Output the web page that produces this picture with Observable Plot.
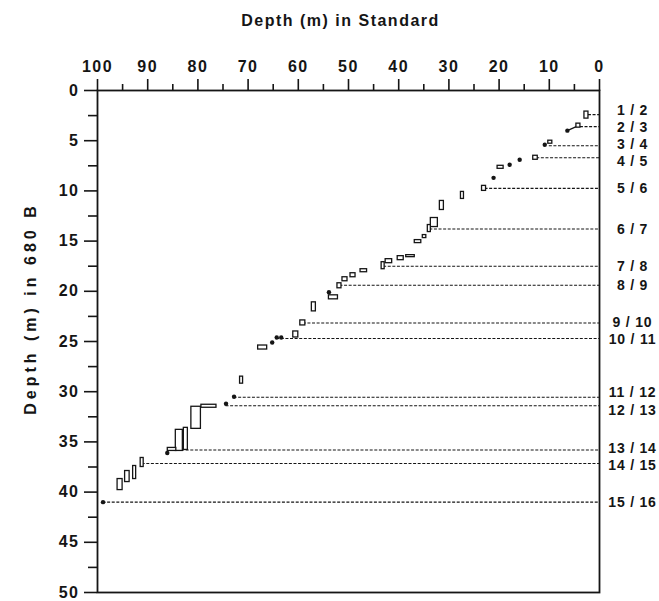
<!DOCTYPE html>
<html>
<head>
<meta charset="utf-8">
<script src="https://cdn.jsdelivr.net/npm/d3@7"></script>
<script src="https://cdn.jsdelivr.net/npm/@observablehq/plot@0.6"></script>
<style>
  html, body { margin: 0; padding: 0; background: #fff; }
  #chart { width: 659px; height: 601px; }
</style>
</head>
<body>
<div id="chart"></div>
<script>
// Depth correlation: Standard section (x) vs Hole 680 B (y), metres.

// Core intervals: [standard from, standard to, 680B from, 680B to]
const intervals = [
  [2.2, 3.0, 2.1, 2.8],
  [3.8, 4.6, 3.3, 3.7],
  [9.4, 10.2, 5.0, 5.3],
  [12.3, 13.2, 6.5, 6.9],
  [19.1, 20.3, 7.5, 7.8],
  [22.6, 23.4, 9.5, 10.0],
  [27.0, 27.6, 10.1, 10.8],
  [31.0, 31.8, 11.0, 11.9],
  [32.2, 33.6, 12.7, 13.6],
  [33.6, 34.2, 13.4, 14.1],
  [34.5, 35.2, 14.4, 14.7],
  [35.5, 36.8, 14.9, 15.2],
  [36.8, 38.5, 16.4, 16.6],
  [39.0, 40.2, 16.5, 16.9],
  [41.3, 42.6, 16.8, 17.2],
  [42.8, 43.4, 17.1, 17.8],
  [46.3, 47.6, 17.8, 18.1],
  [48.6, 49.6, 18.2, 18.6],
  [50.2, 51.2, 18.6, 19.0],
  [51.4, 52.2, 19.2, 19.7],
  [52.1, 53.9, 20.4, 20.8],
  [56.5, 57.3, 21.1, 22.0],
  [58.6, 59.6, 22.9, 23.4],
  [60.0, 61.0, 24.0, 24.6],
  [66.2, 68.0, 25.4, 25.8],
  [71.0, 71.6, 28.5, 29.2],
  [76.3, 79.3, 31.3, 31.6],
  [79.4, 81.3, 31.5, 33.7],
  [82.0, 82.8, 33.6, 35.8],
  [83.0, 84.4, 33.8, 35.9],
  [84.3, 86.0, 35.6, 35.9],
  [90.8, 91.4, 36.6, 37.5],
  [92.3, 92.9, 37.4, 38.7],
  [93.6, 94.5, 37.9, 39.0],
  [95.0, 96.0, 38.7, 39.8]
];

// Single tie points: [standard depth, 680B depth]
const ties = [
  [6.4, 4.0], [10.9, 5.4], [15.9, 6.9], [17.9, 7.4], [21.1, 8.7],
  [53.9, 20.1], [63.4, 24.6], [64.3, 24.6], [65.2, 25.1],
  [72.8, 30.5], [74.4, 31.2], [86.1, 36.1], [98.9, 41.0]
];

// Link from tie point to interval in core 2
const links = [[6.4, 4.0, 4.2, 3.5]];

// Core breaks in 680 B: label, 680B depth, standard depth where the line starts
const breakLabels = ["1 / 2", "2 / 3", "3 / 4", "4 / 5", "5 / 6", "6 / 7", "7 / 8", "8 / 9",
  "9 / 10", "10 / 11", "11 / 12", "12 / 13", "13 / 14", "14 / 15", "15 / 16"];
const breakDepths = [2.4, 3.6, 5.5, 6.7, 9.75, 13.8, 17.5, 19.4, 23.15, 24.7, 30.55, 31.4, 35.8, 37.15, 41.0];
const breakStarts = [2.2, 3.8, 10.0, 12.5, 22.8, 33.8, 43.0, 51.7, 59.0, 64.3, 72.8, 74.4, 86.0, 91.1, 98.9];

const xTitle = "Depth (m) in Standard";
const yTitle = "Depth (m) in 680 B";

const xMajor = d3.range(0, 101, 10);
const xMinor = d3.range(5, 100, 10);
const yMajor = d3.range(0, 51, 5);
const yMinor = d3.range(2.5, 50, 5);

// Spread labels apart so neighbouring breaks do not overlap
function spread(values, gap) {
  let groups = values.map((v, i) => ({idx: [i], orig: [v]}));
  const place = (g) => {
    const mean = d3.mean(g.orig);
    const n = g.orig.length;
    return g.orig.map((_, k) => mean + (k - (n - 1) / 2) * gap);
  };
  let merged = true;
  while (merged) {
    merged = false;
    for (let i = 1; i < groups.length; i++) {
      const a = place(groups[i - 1]), b = place(groups[i]);
      if (b[0] - a[a.length - 1] < gap) {
        groups[i - 1] = {idx: groups[i - 1].idx.concat(groups[i].idx), orig: groups[i - 1].orig.concat(groups[i].orig)};
        groups.splice(i, 1);
        merged = true;
        break;
      }
    }
  }
  const out = [];
  for (const g of groups) place(g).forEach((v, k) => out[g.idx[k]] = v);
  return out;
}

const labelDepths = spread(breakDepths, 1.7);
const breaks = breakLabels.map((label, i) => ({label, depth: breakDepths[i], start: breakStarts[i], labelDepth: labelDepths[i]}));
const boxes = intervals.map(([s1, s2, d1, d2]) => ({s1, s2, d1, d2}));
const points = ties.map(([s, d]) => ({s, d}));
const linkRows = links.map(([sa, da, sb, db]) => ({sa, da, sb, db}));

const ink = "#151515";

const chart = Plot.plot({
  width: 659,
  height: 601,
  marginTop: 90,
  marginLeft: 97,
  marginRight: 60,
  marginBottom: 9,
  style: {fontFamily: "'Liberation Sans', Arial, sans-serif", fontSize: "16px", fontWeight: "bold", color: ink, background: "#fff", overflow: "visible", letterSpacing: "1.5px"},
  x: {domain: [100, 0], axis: null},
  y: {domain: [0, 50], reverse: true, axis: null},
  marks: [
    Plot.frame({stroke: ink, strokeWidth: 1.8}),
    // top axis
    Plot.axisX({anchor: "top", ticks: xMajor, tickSize: 12, tickPadding: 7, stroke: ink, strokeWidth: 1.6, fill: ink, label: null, fontWeight: "bold", fontSize: 16}),
    Plot.axisX({anchor: "top", ticks: xMinor, tickSize: 7, tickFormat: () => "", stroke: ink, strokeWidth: 1.6, label: null}),
    // left axis
    Plot.axisY({anchor: "left", ticks: yMajor, tickSize: 13, tickPadding: 5, stroke: ink, strokeWidth: 1.6, fill: ink, label: null, fontWeight: "bold", fontSize: 16}),
    Plot.axisY({anchor: "left", ticks: yMinor, tickSize: 9, tickFormat: () => "", stroke: ink, strokeWidth: 1.6, label: null}),
    // titles
    Plot.text([xTitle], {frameAnchor: "top", dy: -76, dx: -8, fontSize: 16, fontWeight: "bold", fill: ink}),
    Plot.text([yTitle], {frameAnchor: "left", textAnchor: "middle", rotate: -90, dx: -67, dy: -33, fontSize: 16, fontWeight: "bold", fill: ink}),
    // core breaks
    Plot.ruleY(breaks, {y: "depth", x1: "start", x2: 0, stroke: ink, strokeWidth: 1.1, strokeDasharray: "3,1.6"}),
    Plot.text(breaks, {x: 0, y: "labelDepth", text: "label", dx: 33, textAnchor: "middle", fontSize: 14, fontWeight: "bold", fill: ink}),
    // correlations
    Plot.link(linkRows, {x1: "sa", y1: "da", x2: "sb", y2: "db", stroke: ink, strokeWidth: 1.3}),
    Plot.rect(boxes, {x1: "s1", x2: "s2", y1: "d1", y2: "d2", fill: "#fff", stroke: ink, strokeWidth: 1.3}),
    Plot.dot(points, {x: "s", y: "d", r: 2.2, fill: ink, stroke: null})
  ]
});

// Wider tracking on the side title, tighter on the break labels
d3.select(chart).selectAll("text").each(function() {
  const t = this.textContent;
  if (t === yTitle) this.style.letterSpacing = "4px";
  else if (breakLabels.includes(t)) this.style.letterSpacing = "0.8px";
});

document.getElementById("chart").append(chart);
</script>
</body>
</html>
